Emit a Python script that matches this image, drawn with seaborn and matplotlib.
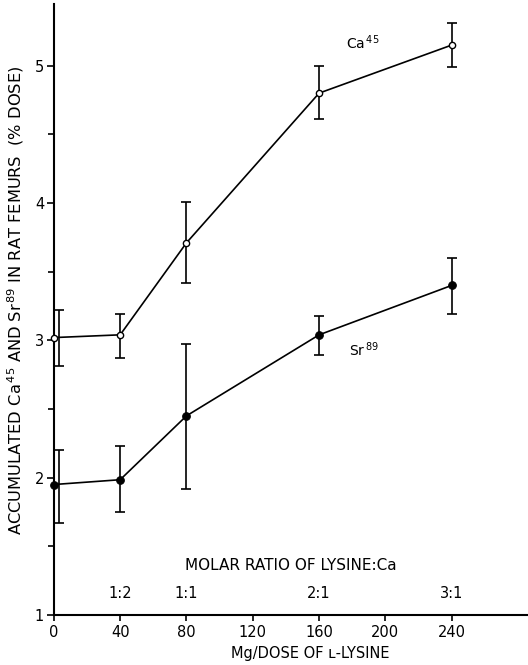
import numpy as np
import pandas as pd
import matplotlib
matplotlib.use("Agg")
import matplotlib.pyplot as plt
import matplotlib.transforms as mtransforms
import seaborn as sns

# ---- data ----
dose = [0, 40, 80, 160, 240]
ca45 = [3.02, 3.04, 3.71, 4.80, 5.15]
ca45_lo = [2.81, 2.87, 3.42, 4.61, 4.99]
ca45_hi = [3.22, 3.19, 4.01, 5.00, 5.31]
sr89 = [1.95, 1.985, 2.45, 3.04, 3.40]
sr89_lo = [1.67, 1.75, 1.92, 2.89, 3.19]
sr89_hi = [2.20, 2.23, 2.97, 3.18, 3.60]
x_ticks = [0, 40, 80, 120, 160, 200, 240]
y_ticks = [1, 2, 3, 4, 5]
ratio_x = [40, 80, 160, 240]
ratio_labels = ["1:2", "1:1", "2:1", "3:1"]

sns.set_style("ticks")
plt.rcParams["font.family"] = ["DejaVu Sans"]
plt.rcParams["text.color"] = "black"
plt.rcParams["axes.labelcolor"] = "black"
plt.rcParams["xtick.color"] = "black"
plt.rcParams["ytick.color"] = "black"

fig = plt.figure(figsize=(5.28, 6.65), dpi=100)
ax = fig.add_axes([0.102, 0.0752, 0.898, 0.919])

df = pd.DataFrame({"dose": dose, "ca": ca45, "sr": sr89})

sns.lineplot(data=df, x="dose", y="ca", ax=ax, color="black", lw=1.2,
             marker="o", markersize=4.5, markerfacecolor="white",
             markeredgecolor="black", markeredgewidth=1.0, clip_on=False, zorder=3)
sns.lineplot(data=df, x="dose", y="sr", ax=ax, color="black", lw=1.2,
             marker="o", markersize=5.5, markerfacecolor="black",
             markeredgecolor="black", clip_on=False, zorder=3)

shift = mtransforms.offset_copy(ax.transData, fig=fig, x=5, y=0, units="dots")
for vals, lo, hi in [(ca45, ca45_lo, ca45_hi), (sr89, sr89_lo, sr89_hi)]:
    v = np.array(vals); l = np.array(lo); h = np.array(hi)
    err = np.vstack([v - l, h - v])
    ax.errorbar(dose[1:], v[1:], yerr=err[:, 1:], fmt="none", ecolor="black",
                elinewidth=1.2, capsize=3.5, capthick=1.2, zorder=2)
    ax.errorbar(dose[:1], v[:1], yerr=err[:, :1], fmt="none", ecolor="black",
                elinewidth=1.2, capsize=3.5, capthick=1.2, zorder=2,
                transform=shift, clip_on=False)

ax.text(176, 5.17, r"Ca$^{\,45}$", fontsize=10, ha="left", va="center")
ax.text(178, 2.93, r"Sr$^{\,89}$", fontsize=10, ha="left", va="center")

for xr, lab in zip(ratio_x, ratio_labels):
    ax.text(xr, 1.1, lab, fontsize=10.5, ha="center", va="bottom")
ax.text(143, 1.36, "MOLAR RATIO OF LYSINE:Ca", fontsize=11, ha="center", va="center")

ax.set_xlim(0, 286)
ax.set_ylim(1, 5.45)
ax.set_xticks(x_ticks)
ax.set_xticklabels([str(t) for t in x_ticks], fontsize=10.5)
ax.set_xticks(ratio_x, minor=True)
ax.set_yticks(y_ticks)
ax.set_yticklabels([str(t) for t in y_ticks], fontsize=10.5)
ax.set_yticks([1.5, 2.5, 3.5, 4.5], minor=True)

ax.tick_params(axis="x", which="major", direction="out", length=4, width=1.2, pad=3, color="black")
ax.tick_params(axis="x", which="minor", direction="inout", length=9, width=1.2, color="black")
ax.tick_params(axis="y", which="major", direction="out", length=5, width=1.2, pad=2, color="black")
ax.tick_params(axis="y", which="minor", direction="out", length=4, width=1.2, color="black")

sns.despine(ax=ax)
for s in ["left", "bottom"]:
    ax.spines[s].set_linewidth(1.5)
    ax.spines[s].set_color("black")

ax.set_xlabel("Mg/DOSE OF \u029f-LYSINE", fontsize=10.5)
ax.xaxis.set_label_coords(0.54, -0.051)
ax.set_ylabel(r"ACCUMULATED Ca$^{\,45}$ AND Sr$^{\,89}$ IN RAT FEMURS  (% DOSE)",
              fontsize=11.7)
ax.yaxis.set_label_coords(-0.058, 0.515)

fig.savefig("out.png", dpi=100)
